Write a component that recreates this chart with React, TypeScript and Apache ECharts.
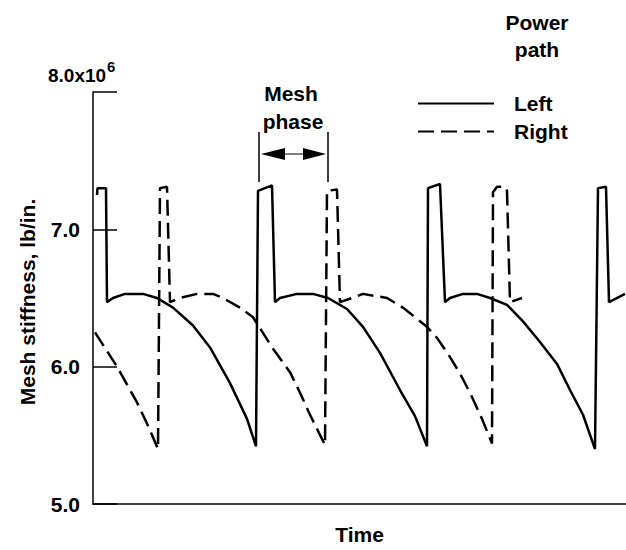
import React, { useEffect, useRef } from "react";
import * as echarts from "echarts";

// Time in arbitrary units (no tick labels on the time axis)
const leftTime = [
  4, 4.5, 13, 14, 20, 32, 50, 64, 80, 100, 117, 137, 154, 163,
  165, 179, 182, 187, 204, 220, 235, 254, 270, 287, 307, 322, 334,
  335, 347, 352, 357, 370, 384, 397, 414, 430, 447, 464, 477, 490, 502,
  505, 513, 516, 532,
];
const leftStiffness = [
  7.25, 7.3, 7.3, 6.47, 6.5, 6.53, 6.53, 6.5, 6.43, 6.3, 6.14, 5.88, 5.62, 5.42,
  7.28, 7.32, 6.47, 6.5, 6.53, 6.53, 6.5, 6.42, 6.29, 6.1, 5.83, 5.64, 5.42,
  7.3, 7.33, 6.47, 6.5, 6.53, 6.53, 6.5, 6.45, 6.33, 6.18, 6.02, 5.83, 5.65, 5.4,
  7.3, 7.31, 6.47, 6.53,
];
const rightTime = [
  2, 24, 44, 55, 65,
  67, 74, 77, 87, 104, 120, 130, 147, 160, 167, 180, 197, 207, 217, 232,
  234, 244, 247, 259, 270, 294, 310, 334, 344, 357, 367, 377, 389, 399,
  400, 404, 412, 414, 417, 429,
];
const rightStiffness = [
  6.25, 6.0, 5.74, 5.57, 5.4,
  7.3, 7.31, 6.47, 6.5, 6.53, 6.53, 6.5, 6.43, 6.36, 6.28, 6.13, 5.96, 5.81, 5.65, 5.43,
  7.28, 7.29, 6.47, 6.5, 6.53, 6.5, 6.43, 6.29, 6.21, 6.07, 5.95, 5.81, 5.62, 5.44,
  7.27, 7.31, 7.31, 7.28, 6.47, 6.5,
];
const seriesNames = ["Left", "Right"];
const yTickValues = [5, 6, 7, 8];
const yTickLabels = ["5.0", "6.0", "7.0", ""];
const topTickLabel = "8.0x10";
const topTickExponent = "6";
const yAxisTitle = "Mesh stiffness, lb/in.";
const xAxisTitle = "Time";
const legendTitle = ["Power", "path"];
const meshPhaseLabel = ["Mesh", "phase"];

export default function App() {
  const ref = useRef<HTMLDivElement>(null);
  useEffect(() => {
    const chart = echarts.init(ref.current!, null, { renderer: "svg" });
    const font = "'Liberation Sans', Arial, Helvetica, sans-serif";
    const txt = { fontFamily: font, fontSize: 21, fontWeight: "bold", fill: "#000" };
    const leftData = leftTime.map((t, i) => [t, leftStiffness[i]]);
    const rightData = rightTime.map((t, i) => [t, rightStiffness[i]]);
    chart.setOption({
      animation: false,
      backgroundColor: "#fff",
      grid: { left: 93, right: 0, top: 92, bottom: 35 },
      xAxis: {
        type: "value",
        min: 0,
        max: 533,
        axisLine: { lineStyle: { color: "#000", width: 1.5 } },
        axisTick: { show: false },
        axisLabel: { show: false },
        splitLine: { show: false },
        name: xAxisTitle,
        nameLocation: "middle",
        nameGap: 20,
        nameTextStyle: { fontFamily: font, fontSize: 21, fontWeight: "bold", color: "#000" },
      },
      yAxis: {
        type: "value",
        min: 5,
        max: 8,
        interval: 1,
        axisLine: { show: true, lineStyle: { color: "#000", width: 1.5 } },
        axisTick: { show: true, inside: true, length: 24, lineStyle: { color: "#000", width: 1.5 } },
        axisLabel: {
          margin: 13,
          fontFamily: font,
          fontSize: 21,
          fontWeight: "bold",
          color: "#000",
          padding: [6, 0, 0, 0],
          formatter: (v: number) => {
            const i = yTickValues.indexOf(v);
            return i >= 0 ? yTickLabels[i] : "";
          },
        },
        splitLine: { show: false },
      },
      legend: {
        orient: "vertical",
        left: 412,
        top: 88,
        itemWidth: 76,
        itemHeight: 14,
        itemGap: 7,
        data: seriesNames,
        itemStyle: { opacity: 0 },
        textStyle: {
          fontFamily: font,
          fontSize: 21,
          fontWeight: "bold",
          color: "#000",
          lineHeight: 21,
          padding: [0, 0, 0, 15],
        },
      },
      series: [
        {
          name: seriesNames[0],
          type: "line",
          symbol: "none",
          data: leftData,
          lineStyle: { color: "#000", width: 2.5, type: "solid" },
          itemStyle: { color: "#000" },
        },
        {
          name: seriesNames[1],
          type: "line",
          symbol: "none",
          data: rightData,
          lineStyle: { color: "#000", width: 2.5, type: [16, 7] },
          itemStyle: { color: "#000" },
        },
      ],
      graphic: [
        {
          type: "text",
          x: 27,
          y: 302,
          rotation: Math.PI / 2,
          style: { ...txt, text: yAxisTitle, align: "center", verticalAlign: "middle" },
        },
        {
          type: "text",
          x: 48,
          y: 75,
          style: { ...txt, fontSize: 19, text: topTickLabel, align: "left", verticalAlign: "middle" },
        },
        {
          type: "text",
          x: 107,
          y: 66,
          style: { ...txt, fontSize: 15, text: topTickExponent, align: "left", verticalAlign: "middle" },
        },
        {
          type: "text",
          x: 537,
          y: 22,
          style: { ...txt, text: legendTitle[0], align: "center", verticalAlign: "middle" },
        },
        {
          type: "text",
          x: 537,
          y: 49,
          style: { ...txt, text: legendTitle[1], align: "center", verticalAlign: "middle" },
        },
        {
          type: "text",
          x: 291,
          y: 93,
          style: { ...txt, text: meshPhaseLabel[0], align: "center", verticalAlign: "middle" },
        },
        {
          type: "text",
          x: 293,
          y: 121,
          style: { ...txt, text: meshPhaseLabel[1], align: "center", verticalAlign: "middle" },
        },
        { type: "line", shape: { x1: 259, y1: 132, x2: 259, y2: 182 }, style: { stroke: "#000", lineWidth: 1.5 } },
        { type: "line", shape: { x1: 328, y1: 132, x2: 328, y2: 182 }, style: { stroke: "#000", lineWidth: 1.5 } },
        { type: "line", shape: { x1: 284, y1: 154, x2: 304, y2: 154 }, style: { stroke: "#000", lineWidth: 1 } },
        { type: "polygon", shape: { points: [[261, 154], [285, 148], [285, 160]] }, style: { fill: "#000" } },
        { type: "polygon", shape: { points: [[326, 154], [303, 148], [303, 160]] }, style: { fill: "#000" } },
      ],
    });
    return () => chart.dispose();
  }, []);
  return (
    <div
      ref={ref}
      style={{ position: "fixed", left: 0, top: 0, width: 626, height: 550, background: "#fff" }}
    />
  );
}
